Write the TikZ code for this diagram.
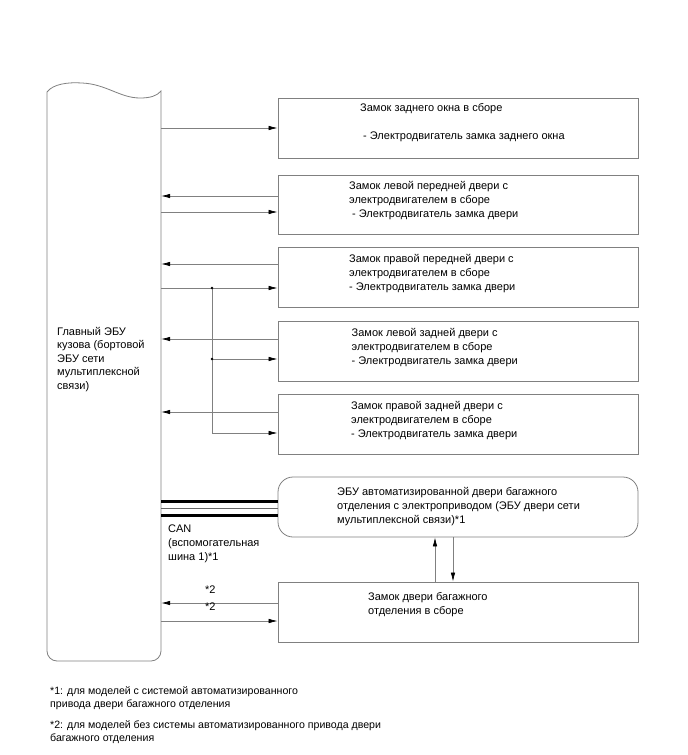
\documentclass[tikz,border=0pt]{standalone}
\usepackage{fontspec}
\setmainfont{Liberation Sans}
\usetikzlibrary{arrows.meta}

\begin{document}
\begin{tikzpicture}[x=1pt, y=-1pt, >={Latex[length=9pt,width=4.5pt,color=black]},
  outline/.style={draw=black!50, line width=0.8pt},
  box/.style={outline, minimum width=360pt, minimum height=60pt, inner sep=0pt},
  txt/.style={anchor=north west, align=left, inner sep=0pt, font=\fontsize{11}{14}\selectfont},
  note/.style={anchor=north west, align=left, inner sep=0pt, font=\fontsize{10.6}{13}\selectfont},
  arr/.style={->, draw=black!50, line width=0.7pt},
  can/.style={draw=black, line width=3pt}]
  \useasboundingbox (0,0) rectangle (688,755);

  % main body ECU
  \node[inner sep=0pt, minimum width=114pt, minimum height=569pt] (ecu) at (104,376.5) {};
  \draw[outline] (47,92) .. controls (53,84) and (68,82) .. (82,83)
    .. controls (106,84) and (120,98) .. (140,98)
    .. controls (150,98) and (157,96) .. (161,91)
    [rounded corners=10pt] -- (161,661) -- (47,661) -- (47,92);
  \node[txt, font=\fontsize{11}{13.5}\selectfont] (ecutxt) at (57,327) {Главный ЭБУ\\кузова (бортовой\\ЭБУ сети\\мультиплексной\\связи)};

  % boxes on the right
  \node[box] (rwin) at (458,128) {};
  \node[box, minimum height=59pt] (lfd) at (458,204.5) {};
  \node[box] (rfd) at (458,277) {};
  \node[box] (lrd) at (458,351) {};
  \node[box] (rrd) at (458,424) {};
  \node[box, rounded corners=15pt] (pbd) at (458,507) {};
  \node[box] (bdl) at (458,612) {};

  \node[txt] (rwintxt) at (360,103) {Замок заднего окна в сборе\\[14pt]\hspace{3pt}- Электродвигатель замка заднего окна};
  \node[txt] (lfdtxt) at (349,181) {Замок левой передней двери с\\электродвигателем в сборе\\\hspace{3pt}- Электродвигатель замка двери};
  \node[txt] (rfdtxt) at (349,254) {Замок правой передней двери с\\электродвигателем в сборе\\- Электродвигатель замка двери};
  \node[txt] (lrdtxt) at (351.5,328) {Замок левой задней двери с\\электродвигателем в сборе\\- Электродвигатель замка двери};
  \node[txt] (rrdtxt) at (351,401) {Замок правой задней двери с\\электродвигателем в сборе\\- Электродвигатель замка двери};
  \node[txt] (pbdtxt) at (337,487) {ЭБУ автоматизированной двери багажного\\отделения с электроприводом (ЭБУ двери сети\\мультиплексной связи)*1};
  \node[txt] (bdltxt) at (368,592) {Замок двери багажного\\отделения в сборе};

  % signal lines
  \draw[arr] (ecu.east |- rwin.west) -- (rwin.west);
  \draw[arr] ([yshift=8.5pt]lfd.west) -- ([yshift=8.5pt]ecu.east |- lfd.west);
  \draw[arr] ([yshift=-7.5pt]ecu.east |- lfd.west) -- ([yshift=-7.5pt]lfd.west);
  \draw[arr] ([yshift=13pt]rfd.west) -- ([yshift=13pt]ecu.east |- rfd.west);
  \draw[arr] ([yshift=-11pt]ecu.east |- rfd.west) -- ([yshift=-11pt]rfd.west);
  \draw[arr] ([yshift=12pt]lrd.west) -- ([yshift=12pt]ecu.east |- lrd.west);
  \draw[arr] ([yshift=12pt]rrd.west) -- ([yshift=12pt]ecu.east |- rrd.west);

  % shared unlock line
  \coordinate (split) at (212,288);
  \draw[arr] ([yshift=-8pt]split |- lrd.west) -- ([yshift=-8pt]lrd.west);
  \draw[arr] (split) |- ([yshift=-9pt]rrd.west);
  \fill[black] (split) circle (1.3pt);
  \fill[black] ([yshift=-8pt]split |- lrd.west) circle (1.3pt);

  % CAN
  \draw[can] ([yshift=5.5pt]ecu.east |- pbd.west) -- ([yshift=5.5pt]pbd.west);
  \draw[draw=black!60, line width=0.8pt] ([yshift=-1.5pt]ecu.east |- pbd.west) -- ([yshift=-1.5pt]pbd.west);
  \draw[can] ([yshift=-8pt]ecu.east |- pbd.west) -- ([yshift=-8pt]pbd.west);
  \node[txt] (cantxt) at (168,525) {CAN\\(вспомогательная\\шина 1)*1};

  \draw[arr] ([xshift=-23pt]bdl.north) -- ([xshift=-23pt]pbd.south);
  \draw[arr] ([xshift=-5pt]pbd.south) -- ([xshift=-5pt]bdl.north);

  \draw[arr] ([yshift=9pt]bdl.west) -- ([yshift=9pt]ecu.east |- bdl.west);
  \draw[arr] ([yshift=-9pt]ecu.east |- bdl.west) -- ([yshift=-9pt]bdl.west);
  \node[txt] (n2a) at (205,586) {*2};
  \node[txt] (n2b) at (205,603) {*2};

  % footnotes
  \node[note] (fn1) at (50,686) {*1: для моделей с системой автоматизированного\\привода двери багажного отделения};
  \node[note] (fn2) at (50,720) {*2: для моделей без системы автоматизированного привода двери\\багажного отделения};
\end{tikzpicture}
\end{document}
